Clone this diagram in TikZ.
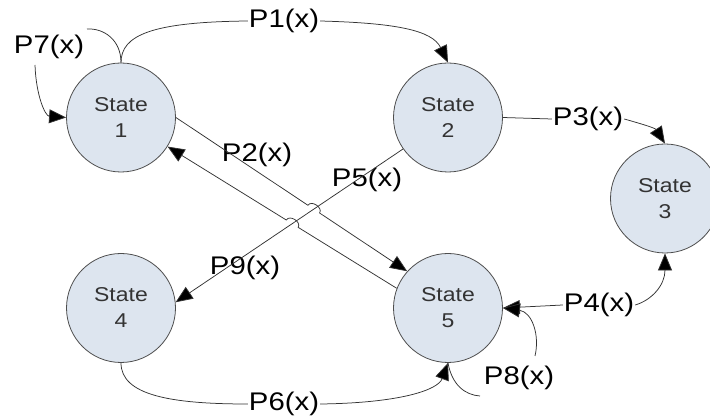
\documentclass[tikz,border=0pt]{standalone}
\usepackage{fontspec}
\setmainfont{Liberation Sans}
\newfontfamily\wfont[FakeStretch=1.15]{Liberation Sans}
\usetikzlibrary{arrows.meta,calc}
\definecolor{statefill}{HTML}{DDE5EF}
\definecolor{edgecol}{HTML}{333333}
\definecolor{rimcol}{HTML}{4D4D4D}
\begin{document}
\begin{tikzpicture}[x=1pt,y=-1pt,
  state/.style={circle,draw=rimcol,line width=0.8pt,fill=statefill,minimum size=109pt,
    inner sep=0pt,align=center,font=\wfont\fontsize{20}{26}\selectfont,text=black!80},
  lab/.style={inner sep=1pt,font=\wfont\fontsize{25.5}{25.5}\selectfont,text=black},
  conn/.style={draw=edgecol,line width=0.75pt},
  arr/.style={-{Triangle[length=17pt,width=14pt,fill=black]}},
]
\useasboundingbox (0,0) rectangle (710,419);

% states
\node[state] (s1) at (121,117.5) {State\\1};
\node[state] (s2) at (448,117.5) {State\\2};
\node[state] (s3) at (665,198.5) {State\\3};
\node[state] (s4) at (121,308) {State\\4};
\node[state] (s5) at (448,308) {State\\5};

% labels
\node[lab] (l7) at (49,47) {P7(x)};
\node[lab] (l1) at (284,21) {P1(x)};
\node[lab] (l3) at (588,119) {P3(x)};
\node[lab] (l4) at (599,305) {P4(x)};
\node[lab] (l8) at (519,378) {P8(x)};
\node[lab] (l6) at (284,404) {P6(x)};
\node[lab] (l2) at (257,155) {P2(x)};
\node[lab] (l5) at (367,180) {P5(x)};
\node[lab] (l9) at (245,268) {P9(x)};

% free ends near loop labels
\coordinate (p7a) at (87,29);
\coordinate (p7b) at (35,65);
\coordinate (p8a) at (535,356);
\coordinate (p8b) at (480,396);

% P1
\draw[conn] (s1.north) .. controls (121,35) and (152,22) .. (l1.west);
\draw[conn,arr] (l1.east) .. controls (395,23) and (432,30) .. (s2.north);
% P7 loop
\draw[conn] (s1.north) .. controls (121,40) and (104,28) .. (p7a);
\draw[conn,arr] (p7b) .. controls (36,95) and (45,116) .. (s1.west);
% P3
\draw[conn] (s2.east) -- (l3.west);
\draw[conn,arr] (l3.east) .. controls (642,124) and (655,128) .. (s3.north);
% P4
\draw[conn,arr] (l4.east) .. controls (652,300) and (665,285) .. (s3.south);
\draw[conn,arr] (l4.west) -- (s5.east);
% P6
\draw[conn] (s4.south) .. controls (121,395) and (170,404) .. (l6.west);
\draw[conn,arr] (l6.east) .. controls (400,403) and (438,390) .. (s5.south);
% P8 loop
\draw[conn] (s5.south) .. controls (452,385) and (465,395) .. (p8b);
\draw[conn,arr] (p8a) .. controls (540,335) and (532,312) .. (s5.east);

% P5 / P9 line
\draw[conn,arr] (s2.215) -- (s4.6);

% crossings
\coordinate (X1) at (intersection of s1.east--s5.138 and s2.215--s4.6);
\coordinate (X2) at (intersection of s5.159--s1.328 and s2.215--s4.6);
\coordinate (h1a) at ($(X1)!7pt!(s1.east)$);
\coordinate (h1b) at ($(X1)!7pt!(s5.138)$);
\coordinate (h1c) at ($(h1a)!6.5pt!90:(X1)$);
\coordinate (h1d) at ($(h1b)!6.5pt!-90:(X1)$);
\coordinate (h2a) at ($(X2)!7pt!(s5.159)$);
\coordinate (h2b) at ($(X2)!7pt!(s1.328)$);
\coordinate (h2c) at ($(h2a)!6.5pt!-90:(X2)$);
\coordinate (h2d) at ($(h2b)!6.5pt!90:(X2)$);

% P2 lines with hops
\draw[conn,arr] (s1.east) -- (h1a) .. controls (h1c) and (h1d) .. (h1b) -- (s5.138);
\draw[conn,arr] (s5.159) -- (h2a) .. controls (h2c) and (h2d) .. (h2b) -- (s1.328);
\end{tikzpicture}
\end{document}
